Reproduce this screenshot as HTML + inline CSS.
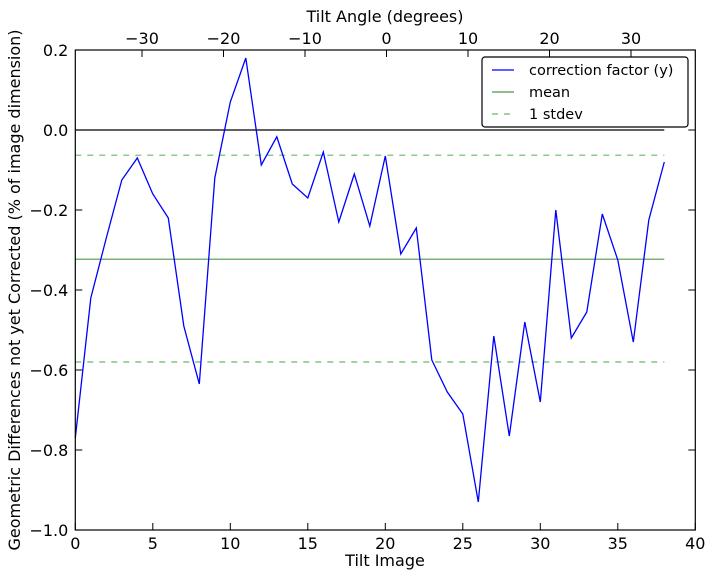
<!DOCTYPE html>
<html><head><meta charset="utf-8"><style>
html,body{margin:0;padding:0;background:#fff;}
svg text{font-family:"DejaVu Sans","Liberation Sans",sans-serif;}
</style></head><body>
<svg id="s" width="714" height="579" xmlns="http://www.w3.org/2000/svg">
<rect width="714" height="579" fill="#fff"/>
<g id="g"></g>
</svg>
<script>
const L=75.3,R=695.3,T=50,B=530;
const X=i=>L+i*15.5, Y=v=>130-400*v;
const d=[-0.77,-0.42,-0.27,-0.125,-0.07,-0.16,-0.22,-0.49,-0.635,-0.12,0.07,0.18,-0.0875,-0.017,-0.135,-0.17,-0.055,-0.23,-0.11,-0.24,-0.065,-0.31,-0.245,-0.575,-0.655,-0.71,-0.93,-0.515,-0.765,-0.48,-0.68,-0.2,-0.52,-0.455,-0.21,-0.325,-0.53,-0.225,-0.08];
let h='';
h+=`<line x1="${L}" y1="${Y(0)}" x2="${X(38)}" y2="${Y(0)}" stroke="#000" stroke-width="1.2"/>`;
h+=`<line x1="${L}" y1="${Y(-0.323)}" x2="${X(38)}" y2="${Y(-0.323)}" stroke="#4a9a4a" stroke-width="1.2"/>`;
[-0.063,-0.58].forEach(v=>h+=`<line x1="${L}" y1="${Y(v)}" x2="${X(38)}" y2="${Y(v)}" stroke="#6ab86a" stroke-width="1.2" stroke-dasharray="6,6"/>`);
h+=`<polyline fill="none" stroke="#0000ff" stroke-width="1.3" points="${d.map((v,i)=>X(i)+','+Y(v)).join(' ')}"/>`;
h+=`<rect x="${L}" y="${T}" width="${R-L}" height="${B-T}" fill="none" stroke="#000" stroke-width="1.2"/>`;
for(let i=0;i<=40;i+=5){const x=X(i);h+=`<line x1="${x}" y1="${B}" x2="${x}" y2="${B-7}" stroke="#000"/><text x="${x}" y="${B+19}" font-size="16" text-anchor="middle">${i}</text>`;}
for(let k=0;k<=6;k++){const v=0.2-0.2*k,y=Y(v);const s=(v<-1e-9?'\u2212':'')+Math.abs(v).toFixed(1);h+=`<line x1="${L}" y1="${y}" x2="${L+7}" y2="${y}" stroke="#000"/><line x1="${R}" y1="${y}" x2="${R-7}" y2="${y}" stroke="#000"/><text x="${L-7}" y="${y+6}" font-size="16" text-anchor="end">${s}</text>`;}
for(let a=-30;a<=30;a+=10){const x=386.5+a*8.15;h+=`<line x1="${x}" y1="${T}" x2="${x}" y2="${T+7}" stroke="#000"/><text x="${x}" y="${T-6}" font-size="16" text-anchor="middle">${a<0?'\u2212'+(-a):a}</text>`;}
h+=`<text x="385" y="566" font-size="16" text-anchor="middle">Tilt Image</text>`;
h+=`<text x="385" y="22" font-size="16" text-anchor="middle">Tilt Angle (degrees)</text>`;
h+=`<text transform="translate(20,290) rotate(-90)" font-size="16" text-anchor="middle">Geometric Differences not yet Corrected (% of image dimension)</text>`;
h+=`<rect x="482" y="57" width="206" height="70" rx="3" fill="#fff" stroke="#000" stroke-width="1.2"/>`;
h+=`<line x1="492" y1="70" x2="514" y2="70" stroke="#0000ff" stroke-width="1.3"/><text x="529" y="75" font-size="14.5">correction factor (y)</text>`;
h+=`<line x1="492" y1="92" x2="514" y2="92" stroke="#4a9a4a" stroke-width="1.2"/><text x="529" y="97" font-size="14.5">mean</text>`;
h+=`<line x1="492" y1="114" x2="514" y2="114" stroke="#6ab86a" stroke-width="1.2" stroke-dasharray="6,6"/><text x="529" y="119" font-size="14.5">1 stdev</text>`;
document.getElementById('g').innerHTML=h;
</script>
</body></html>
